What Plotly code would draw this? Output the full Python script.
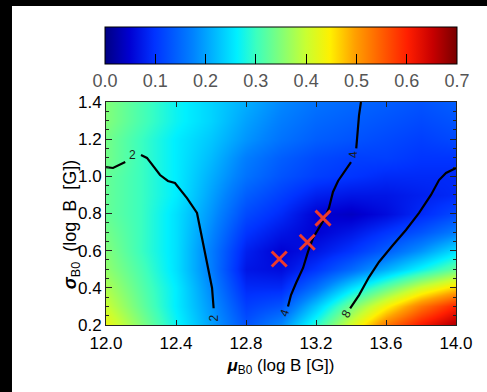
import plotly.graph_objects as go

# ---- data ----
mu_grid = [12.0, 12.2, 12.4, 12.6, 12.8, 13.0, 13.2, 13.4, 13.6, 13.8, 14.0]
sigma_grid = [0.2, 0.3, 0.4, 0.5, 0.6, 0.7, 0.8, 0.9, 1.0, 1.1, 1.2, 1.3, 1.4]
frac_grid = [
    [.43, .35, .27, .20, .13, .18, .29, .41, .53, .61, .67],
    [.40, .33, .26, .19, .11, .13, .23, .34, .44, .53, .60],
    [.38, .32, .26, .18, .09, .09, .16, .25, .33, .41, .47],
    [.36, .31, .25, .17, .07, .06, .10, .15, .21, .27, .33],
    [.35, .30, .25, .17, .08, .05, .07, .10, .14, .19, .25],
    [.34, .30, .25, .18, .10, .07, .05, .07, .10, .13, .17],
    [.33, .30, .25, .19, .12, .09, .05, .04, .06, .09, .12],
    [.33, .30, .26, .20, .14, .11, .08, .07, .07, .08, .09],
    [.33, .30, .26, .21, .16, .13, .11, .10, .09, .09, .09],
    [.34, .30, .26, .22, .17, .14, .12, .11, .11, .10, .10],
    [.34, .30, .26, .23, .19, .16, .14, .13, .12, .11, .12],
    [.35, .31, .27, .24, .20, .17, .15, .14, .13, .12, .13],
    [.35, .31, .27, .24, .21, .18, .16, .15, .14, .13, .14],
]

# contour level 2
c2_mu = [12.0, 12.04, 12.11, None, 12.20, 12.234, 12.309, 12.354, 12.394, 12.463,
         12.52, 12.537, 12.566, 12.589, 12.606, 12.615, None, 12.622]
c2_sigma = [1.05, 1.045, 1.077, None, 1.115, 1.099, 1.007, 0.975, 0.964, 0.883,
            0.803, 0.722, 0.593, 0.485, 0.399, 0.29, None, 0.2]
# contour level 4
c4_mu = [13.457, 13.446, 13.43, None, 13.40, 13.36, 13.326, 13.297, 13.274, 13.251,
         13.217, 13.183, 13.154, 13.126, 13.086, 13.057, 13.04, None, 13.011]
c4_sigma = [1.40, 1.33, 1.15, None, 1.077, 1.023, 0.975, 0.916, 0.83, 0.776,
            0.722, 0.668, 0.593, 0.507, 0.426, 0.361, 0.30, None, 0.2]
# contour level 8
c8_mu = [14.0, 13.943, 13.903, 13.857, 13.789, 13.714, 13.64, 13.56, 13.503,
         13.446, 13.395, None, 13.356]
c8_sigma = [1.045, 1.018, 0.98, 0.90, 0.803, 0.711, 0.63, 0.539, 0.458,
            0.361, 0.29, None, 0.2]

label_mu = [12.154, 12.617, 13.412, 13.023, 13.377]
label_sigma = [1.115, 0.24, 1.115, 0.262, 0.262]
label_text = ["2", "2", "4", "4", "8"]
label_angle = [0, -90, -95, -70, -60]

best_mu = [12.99, 13.15, 13.24]
best_sigma = [0.555, 0.645, 0.775]

cbar_ticks = [0.0, 0.1, 0.2, 0.3, 0.4, 0.5, 0.6, 0.7]
x_ticks = [12.0, 12.4, 12.8, 13.2, 13.6, 14.0]
y_ticks = [0.2, 0.4, 0.6, 0.8, 1.0, 1.2, 1.4]

# IDL-like rainbow colour table
rainbow = [
    [0.00, "rgb(0,0,130)"], [0.07, "rgb(0,0,210)"], [0.14, "rgb(0,50,255)"],
    [0.25, "rgb(0,130,255)"], [0.375, "rgb(0,240,255)"], [0.43, "rgb(60,255,190)"],
    [0.50, "rgb(130,255,120)"], [0.57, "rgb(200,255,50)"], [0.64, "rgb(255,240,0)"],
    [0.71, "rgb(255,160,0)"], [0.79, "rgb(255,90,0)"], [0.86, "rgb(255,30,0)"],
    [0.93, "rgb(200,0,0)"], [1.00, "rgb(120,0,0)"],
]

NARROW = "Liberation Sans Narrow, Arial Narrow, Liberation Sans, Arial, sans-serif"
FONT = "Liberation Sans, Arial, Helvetica, sans-serif"

fig = go.Figure()
fig.add_trace(go.Heatmap(
    x=mu_grid, y=sigma_grid, z=frac_grid,
    colorscale=rainbow, zmin=0.0, zmax=0.7, zsmooth="best",
    colorbar=dict(
        orientation="h", x=0.5, xanchor="center", y=1.336, yanchor="top",
        len=352, lenmode="pixels", thickness=37, thicknessmode="pixels",
        outlinecolor="black", outlinewidth=1, xpad=0, ypad=0,
        ticks="inside", ticklen=10, tickcolor="black", tickwidth=1,
        tickvals=cbar_ticks, ticktext=[f"{v:.1f}" for v in cbar_ticks],
        tickfont=dict(family=NARROW, size=18, color="#555555"),
    ),
    hoverinfo="skip",
))
for cx, cy in [(c2_mu, c2_sigma), (c4_mu, c4_sigma), (c8_mu, c8_sigma)]:
    fig.add_trace(go.Scatter(x=cx, y=cy, mode="lines",
                             line=dict(color="black", width=2.2),
                             connectgaps=False, showlegend=False, hoverinfo="skip"))
fig.add_trace(go.Scatter(
    x=best_mu, y=best_sigma, mode="markers",
    marker=dict(symbol="x-thin", size=15, line=dict(color="#ee3b2c", width=3)),
    showlegend=False, hoverinfo="skip"))

for lx, ly, lt, la in zip(label_mu, label_sigma, label_text, label_angle):
    fig.add_annotation(x=lx, y=ly, text=lt, showarrow=False, textangle=la,
                       font=dict(family=FONT, size=12, color="#1a1a1a"))

# y-axis title placed as in the reference
fig.add_annotation(xref="paper", yref="paper", x=-0.137, y=0.45,
                   text="<b><i>σ</i></b><sub>B0</sub>  (log  B  [G])",
                   textangle=-90, showarrow=False,
                   font=dict(family=FONT, size=18, color="black"))

# black frame strips of the original figure
fig.add_shape(type="rect", xref="paper", yref="paper", x0=-0.31, x1=-0.2686,
              y0=-0.31, y1=1.46, fillcolor="black", line_width=0, layer="above")
fig.add_shape(type="rect", xref="paper", yref="paper", x0=-0.31, x1=1.1,
              y0=1.4305, y1=1.46, fillcolor="black", line_width=0, layer="above")

fig.update_layout(
    width=487, height=392,
    margin=dict(l=106, r=31, t=102, b=67),
    paper_bgcolor="white", plot_bgcolor="white",
    font=dict(family=FONT, size=14, color="black"),
    showlegend=False,
    xaxis=dict(
        range=[12.0, 14.0], tickvals=x_ticks, ticktext=[f"{v:.1f}" for v in x_ticks],
        ticks="inside", ticklen=5, tickcolor="#222", mirror="ticks",
        showline=True, linecolor="#222", linewidth=1, showgrid=False, zeroline=False,
        tickfont=dict(family=NARROW, size=17), ticklabelstandoff=3,
        title=dict(text="<b><i>μ</i></b><sub>B0</sub> (log B [G])", standoff=6,
                   font=dict(family=FONT, size=17)),
    ),
    yaxis=dict(
        range=[0.2, 1.4], tickvals=y_ticks, ticktext=[f"{v:.1f}" for v in y_ticks],
        ticks="inside", ticklen=6, tickcolor="#222", mirror="ticks",
        showline=True, linecolor="#222", linewidth=1, showgrid=False, zeroline=False,
        minor=dict(dtick=0.05, tick0=0.2, ticks="inside", ticklen=3, tickcolor="#222"),
        tickfont=dict(family=NARROW, size=17),
    ),
)

fig.write_html(
    "out.html", config={"displayModeBar": False},
    post_script=("document.body.style.margin='0';"
                 "document.documentElement.style.overflow='hidden';"
                 "document.documentElement.style.scrollbarWidth='none';"
                 "document.documentElement.style.background='white';"
                 "document.body.style.background='white';"),
)
